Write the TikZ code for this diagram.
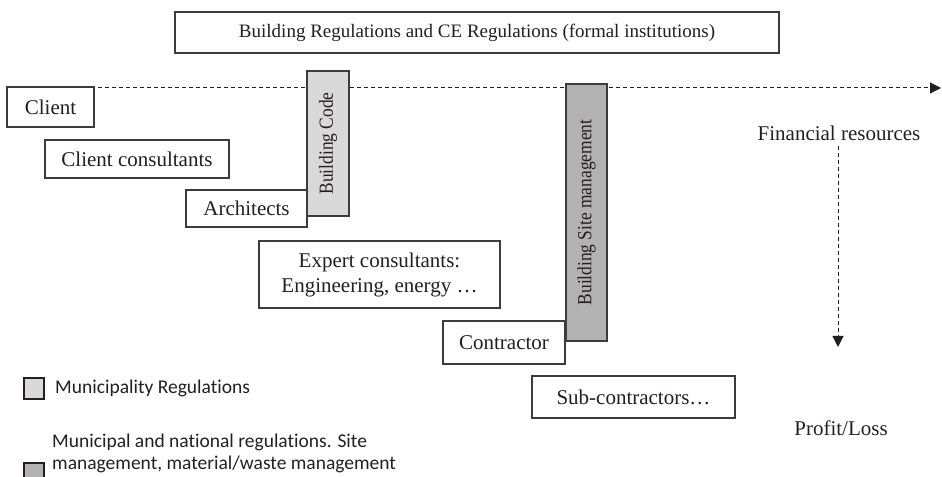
\documentclass[tikz,border=0pt]{standalone}
\usepackage{fontspec}
\setmainfont{Liberation Serif}
\newfontfamily\barfont[FakeStretch=0.87]{Liberation Serif}
\newfontfamily\keyfont[Ligatures=NoCommon]{Carlito}
\usetikzlibrary{arrows.meta}
\definecolor{pdfcolor1}{RGB}{60,60,60}
\definecolor{pdfcolor2}{RGB}{217,217,217}
\definecolor{pdfcolor3}{RGB}{178,178,178}
\definecolor{pdfcolor4}{RGB}{35,31,32}
\tikzset{
  actor/.style={draw=pdfcolor1,line width=1.2bp,fill=white,anchor=north west,inner sep=0pt,outer sep=0pt,
    text=pdfcolor4,font=\fontsize{21bp}{25bp}\selectfont},
  regbar/.style={draw=pdfcolor1,line width=1.2bp,rotate=90,inner sep=0pt,outer sep=0pt,
    text=pdfcolor4,font=\barfont\fontsize{20bp}{24bp}\selectfont},
  keybox/.style={draw=pdfcolor4,line width=2bp,anchor=north west,minimum width=20bp,minimum height=21bp,inner sep=0pt},
  keytext/.style={anchor=west,inner sep=0pt,text=pdfcolor4,align=left,font=\keyfont\fontsize{19.5bp}{21.5bp}\selectfont},
  flow/.style={pdfcolor4,line width=1bp,dash pattern=on 4bp off 3bp,-{Triangle[length=11bp,width=11bp]}},
  label/.style={inner sep=0pt,text=pdfcolor4,font=\fontsize{21bp}{25bp}\selectfont}
}

\begin{document}
\begin{tikzpicture}[x=1bp,y=-1bp]
  \useasboundingbox (0,0) rectangle (942,477);
  \coordinate (tstart) at (7,88);
  \coordinate (tend) at (941,88);
  \draw[flow] (tstart) -- (tend);
  \node[actor,minimum width=604bp,minimum height=41bp,font=\fontsize{19bp}{23bp}\selectfont] (formal) at (175,12) {Building Regulations and CE Regulations (formal institutions)};
  \node[actor,minimum width=87bp,minimum height=40bp] (client) at (7,87) {Client};
  \node[actor,minimum width=184bp,minimum height=38bp] (clientcons) at (45,140) {Client consultants};
  \node[actor,minimum width=121bp,minimum height=37bp] (architects) at (186,190) {Architects};
  \node[regbar,fill=pdfcolor2,minimum width=145bp,minimum height=42bp] (code) at (328,143.5) {Building Code};
  \node[actor,minimum width=241bp,minimum height=67bp,align=center] (experts) at (259,241) {Expert consultants:\\Engineering, energy …};
  \node[actor,minimum width=122bp,minimum height=43bp] (contractor) at (443,321) {Contractor};
  \node[regbar,fill=pdfcolor3,minimum width=257bp,minimum height=41bp] (sitemgmt) at (586.5,212.5) {Building Site management};
  \node[actor,minimum width=203bp,minimum height=42bp] (subcontr) at (532,376) {Sub-contractors…};
  \node[label] (funds) at (839,133) {Financial resources};
  \coordinate (fundsend) at (838,347);
  \draw[flow,shorten <=5bp] (funds.south -| fundsend) -- (fundsend);
  \node[label] (result) at (841,428) {Profit/Loss};
  \node[keybox,fill=pdfcolor2] (keycode) at (23,377) {};
  \node[keytext] (keycodetext) at (55,388) {Municipality Regulations};
  \node[keybox,fill=pdfcolor3] (keysite) at (23,462) {};
  \node[keytext] (keysitetext) at (52,453.5) {Municipal and national regulations. Site\\management, material/waste management};
\end{tikzpicture}
\end{document}
